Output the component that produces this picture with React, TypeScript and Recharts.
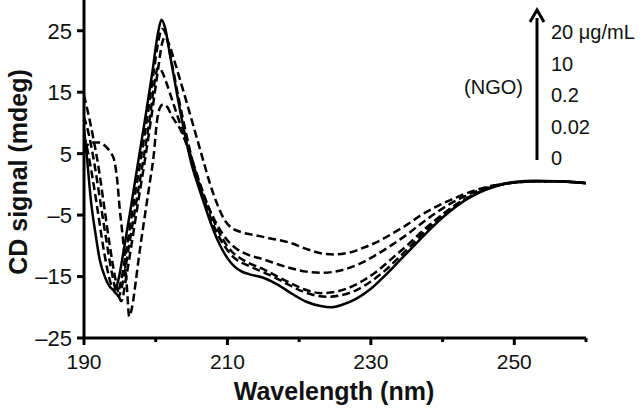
import { LineChart, Line, XAxis, YAxis } from "recharts";

// wavelength (nm), CD signal (mdeg)
const ngo0: [number, number][] = [
  [190, 9], [190.4, 4.5], [191, -3], [191.6, -8], [192.2, -12.3], [193, -15.3], [193.7, -16.8], [194.3, -17.2],
  [194.8, -15.5], [195.5, -11], [196.5, -4], [197.5, 3.3], [198.5, 10.5], [199.5, 18], [200.3, 24.5], [200.8, 26.8],
  [201.3, 25.5], [202, 21], [203, 14.5], [204, 8.5], [205, 3.3], [206, -0.5], [207, -4], [208, -7.3], [209, -10],
  [210, -12], [211, -13.4], [212, -14.2], [213, -14.6], [215, -15.2], [217, -16.3], [219, -17.8], [221, -19.1],
  [223, -19.8], [224.5, -20], [226, -19.6], [228, -18.6], [230, -17], [232, -14.8], [234, -12.4], [236, -10],
  [238, -7.6], [240, -5.4], [242, -3.5], [244, -2], [246, -0.9], [248, -0.1], [250, 0.4], [253, 0.6], [256, 0.5], [260, 0.2],
];

const ngo002: [number, number][] = [
  [190, 8], [190.5, 5.5], [191.2, 1], [192, -5], [192.8, -11], [193.7, -16], [194.6, -17.8], [195.2, -15.5],
  [196, -10], [197, -2.5], [197.9, 4], [198.9, 11.5], [199.8, 19], [200.5, 24], [200.9, 25.3], [201.4, 24.5],
  [202.2, 20], [203.2, 14], [204.2, 8.5], [205.2, 3.5], [206.2, -0.5], [207.2, -4], [208.2, -7], [209.2, -9.3],
  [210.2, -11], [211.2, -12.2], [212.5, -13], [214, -13.8], [216, -14.8], [218, -16], [220, -17.2], [222, -18],
  [224, -18.3], [226, -18], [228, -17.2], [230, -15.8], [232, -14], [234, -11.8], [236, -9.5], [238, -7.1],
  [240, -5], [242, -3.2], [244, -1.9], [246, -0.8], [248, -0.1], [250, 0.3], [253, 0.5], [256, 0.5], [260, 0.2],
];

const ngo02: [number, number][] = [
  [190, 11], [190.7, 8], [191.5, 3], [192.3, -3], [193.1, -9], [193.9, -14.5], [194.8, -18.2], [195.4, -16],
  [196.2, -10.5], [197.2, -3.5], [198.2, 3.5], [199.2, 11], [199.9, 17], [200.3, 19], [200.8, 18.5], [201.5, 16.5],
  [202.5, 13], [203.5, 9.5], [204.5, 6], [205.5, 2.5], [206.5, -1], [207.5, -4.2], [208.5, -7], [209.5, -9.2],
  [210.5, -10.8], [211.5, -11.8], [213, -12.8], [215, -13.8], [217, -15], [219, -16.2], [221, -17.2], [223, -17.7],
  [225, -17.5], [227, -16.8], [229, -15.6], [231, -14], [233, -12], [235, -10], [237, -7.8], [239, -5.8],
  [241, -4], [243, -2.5], [245, -1.3], [247, -0.4], [250, 0.3], [253, 0.5], [256, 0.5], [260, 0.2],
];

const ngo10: [number, number][] = [
  [190, 5.5], [191, 6.8], [192.2, 6.8], [193, 6.2], [193.7, 5.2], [194.2, 4], [194.6, 1], [195, -4.2],
  [195.4, -8.5], [195.7, -12.3], [196, -17], [196.3, -21.5], [196.7, -20], [197.2, -16], [197.6, -12.3],
  [198.5, -5], [199.2, 0.5], [199.7, 4.5], [200.2, 10.5], [200.6, 12.5], [201, 13], [201.6, 12.6], [202.3, 11],
  [203.4, 9], [204.3, 6.5], [205.3, 3], [206.3, -0.5], [207.3, -3.5], [208.3, -6], [209.3, -8], [210.3, -9.5],
  [211.3, -10.5], [213, -11.5], [215, -12.2], [217, -13], [219, -13.7], [221, -14.2], [223, -14.4], [225, -14.2],
  [227, -13.6], [229, -12.6], [231, -11.3], [233, -9.8], [235, -8.2], [237, -6.4], [239, -4.7], [241, -3.2],
  [243, -2], [245, -1], [247, -0.3], [250, 0.3], [253, 0.5], [256, 0.5], [260, 0.2],
];

const ngo20: [number, number][] = [
  [190, 14.5], [190.6, 11.5], [191.3, 7.5], [192, 3], [192.8, -3.5], [193.6, -10], [194.4, -15.5], [195.2, -19],
  [195.9, -15], [196.8, -8.5], [197.6, -2.5], [198.5, 4], [199.4, 11], [200.3, 18.5], [200.9, 23], [201.3, 24],
  [201.8, 23], [202.5, 20.5], [203.4, 17], [204.4, 13], [205.5, 8.5], [206.6, 4], [207.6, 0], [208.6, -3.3],
  [209.6, -5.8], [210.5, -7], [212, -7.8], [214, -8.3], [216, -8.8], [218.7, -9.5], [221, -10.5], [223, -11.2],
  [225, -11.4], [227, -11.1], [229, -10.3], [231, -9.3], [233, -8], [235, -6.6], [237, -5], [239, -3.7],
  [241, -2.6], [243, -1.6], [245, -0.8], [247, -0.2], [250, 0.3], [253, 0.5], [256, 0.5], [260, 0.2],
];

const xTicks = [190, 200, 210, 220, 230, 240, 250, 260];
const xLabelled = [190, 210, 230, 250];
const yTicks = [-25, -15, -5, 5, 15, 25];
const legendLabels = ["20 μg/mL", "10", "0.2", "0.02", "0"];

const FONT = "'Liberation Sans', Arial, sans-serif";
const toPts = (arr: [number, number][]) => arr.map(([w, v]) => ({ w, v }));

function XTick({ x, y, payload }: any) {
  const major = xLabelled.includes(payload.value);
  return (
    <g>
      <line x1={x} x2={x} y1={y} y2={y + (major ? 7 : 4)} stroke="#000" strokeWidth={3} />
      {major && (
        <text x={x} y={y + 31} textAnchor="middle" fontSize={21} fontFamily={FONT} fill="#111">
          {payload.value}
        </text>
      )}
    </g>
  );
}

function YTick({ x, y, payload }: any) {
  const label = payload.value < 0 ? "\u2013" + Math.abs(payload.value) : String(payload.value);
  return (
    <g>
      <line x1={x - 7} x2={x} y1={y} y2={y} stroke="#000" strokeWidth={3} />
      <text x={x - 12} y={y} dy="0.36em" textAnchor="end" fontSize={22} fontFamily={FONT} fill="#111">
        {label}
      </text>
    </g>
  );
}

const series = [
  { key: "20", data: ngo20, dash: "8 4" },
  { key: "10", data: ngo10, dash: "8 4" },
  { key: "0.2", data: ngo02, dash: "8 4" },
  { key: "0.02", data: ngo002, dash: "8 4" },
  { key: "0", data: ngo0, dash: undefined },
];

export default function App() {
  return (
    <div style={{ position: "absolute", left: 0, top: 0, width: 643, height: 408, background: "#fff" }}>
      <LineChart width={643} height={408} margin={{ top: 0, right: 57, bottom: 0, left: 0 }}>
        <XAxis
          dataKey="w"
          type="number"
          domain={[190, 260]}
          ticks={xTicks}
          height={70}
          tickSize={0}
          tickMargin={0}
          tickLine={false}
          axisLine={{ stroke: "#000", strokeWidth: 3 }}
          tick={<XTick />}
          interval={0}
          allowDataOverflow
        />
        <YAxis
          type="number"
          domain={[-25, 30]}
          ticks={yTicks}
          width={84}
          tickSize={0}
          tickMargin={0}
          tickLine={false}
          axisLine={{ stroke: "#000", strokeWidth: 3 }}
          tick={<YTick />}
          interval={0}
          allowDataOverflow
        />
        {series.map((s) => (
          <Line
            key={s.key}
            data={toPts(s.data)}
            dataKey="v"
            type="monotone"
            stroke="#000"
            strokeWidth={2.5}
            strokeDasharray={s.dash}
            dot={false}
            activeDot={false}
            isAnimationActive={false}
          />
        ))}
      </LineChart>
      <svg width={643} height={408} style={{ position: "absolute", left: 0, top: 0, pointerEvents: "none" }}>
        <text
          x={0}
          y={0}
          transform="translate(27 172) rotate(-90)"
          textAnchor="middle"
          fontSize={25}
          fontWeight="bold"
          fontFamily={FONT}
          fill="#111"
        >
          CD signal (mdeg)
        </text>
        <text x={334} y={400} textAnchor="middle" fontSize={25} fontWeight="bold" fontFamily={FONT} fill="#111">
          Wavelength (nm)
        </text>
        <line x1={537} x2={537} y1={160} y2={18} stroke="#000" strokeWidth={3} />
        <path d="M530 22 L537 10 L544 22" fill="none" stroke="#000" strokeWidth={3} />
        {legendLabels.map((t, i) => (
          <text key={t} x={551} y={32 + i * 31.5} dy="0.36em" fontSize={20} fontFamily={FONT} fill="#111">
            {t}
          </text>
        ))}
        <text x={523} y={87} dy="0.36em" textAnchor="end" fontSize={20} fontFamily={FONT} fill="#111">
          (NGO)
        </text>
      </svg>
    </div>
  );
}
